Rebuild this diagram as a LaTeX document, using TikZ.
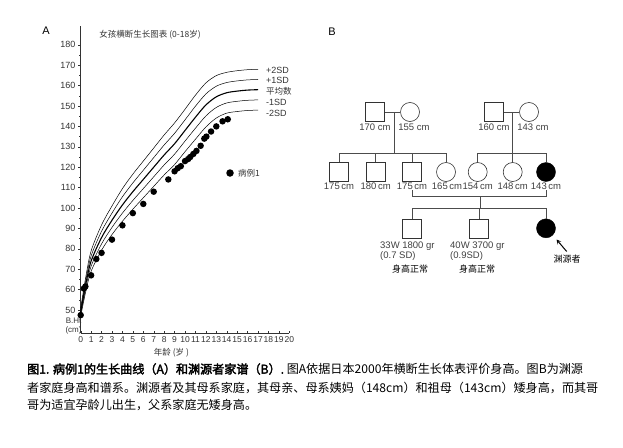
\documentclass[tikz,border=0pt]{standalone}
\usepackage{fontspec}
\setmainfont{Liberation Sans}
\newfontfamily\cjk{Noto Sans CJK SC}
\newfontfamily\cjkb[FakeBold=2.5]{Noto Sans CJK SC}
\begin{document}
\begin{tikzpicture}[x=1pt,y=-1pt,
  lab/.style={font=\fontsize{9}{10}\selectfont, text=black!80, inner sep=0pt},
  plab/.style={font=\fontsize{9.5}{10}\selectfont, text=black!75, inner sep=0pt},
  pdot/.style={circle, fill=black, inner sep=0pt, minimum size=6.5pt},
  male/.style={draw=black!80, minimum size=19pt, inner sep=0pt, line width=0.6pt},
  female/.style={circle, draw=black!80, minimum size=19pt, inner sep=0pt, line width=0.6pt},
  affected/.style={circle, draw=black, fill=black, minimum size=19pt, inner sep=0pt},
  pline/.style={draw=black!70, line width=0.5pt},
  captxt/.style={font=\cjk\fontsize{12.1}{13}\selectfont, anchor=west, inner sep=0pt}]
\useasboundingbox (0,0) rectangle (623,447);
% ---------- A ----------
\node[font=\fontsize{11}{12}\selectfont] (A) at (46,31) {A};
\node[lab, font=\cjk\fontsize{8.5}{9}\selectfont] (title) at (150,35) {女孩横断生长图表 (0-18岁)};
\begin{scope}[shift={(80.7,310)}, x={(10.43pt,0)}, y={(0,2.04pt)}]
  \coordinate (o) at (0,-11.5);
  \draw[black!80, line width=0.6pt] (0,-11.5) -- (0,139);
  \draw[black!80, line width=0.6pt] (0,-11.5) -- (20,-11.5);
  \foreach \h in {50,60,...,180} {
    \draw[black!80] (0,\h-50) -- ++(-3pt,0);
    \node[lab, anchor=east] at (-0.5,\h-50) {\h};
  }
  \foreach \h in {55,65,...,175} \draw[black!80] (0,\h-50) -- ++(-1.5pt,0);
  \foreach \a in {0,...,20} {
    \draw[black!80] (\a,-11.5) -- ++(0,2.5pt);
    \node[lab, anchor=north, font=\fontsize{8.5}{9}\selectfont] at (\a,-13) {\a};
  }
  \node[lab, align=center, anchor=east, font=\fontsize{8}{8.5}\selectfont] at (0.1,-8) {B.Ht\\(cm)};
  \node[lab, font=\cjk\fontsize{8.5}{9}\selectfont] at (8.7,-21) {年龄 (岁 )};
  \newcommand\gcurve[2]{\draw[black, line width=#2] plot[smooth] coordinates {
    (0,{49+#1*1.0-50}) (0.5,{63+#1*1.8-50}) (1,{74+#1*2.5-50}) (2,{85.5+#1*3.1-50})
    (3,{94+#1*3.5-50}) (4,{101.5+#1*4.0-50}) (5,{108+#1*4.3-50}) (6,{114+#1*4.5-50})
    (7,{120+#1*4.7-50}) (8,{126+#1*4.9-50}) (9,{131.5+#1*5.1-50}) (10,{138+#1*5.2-50})
    (11,{144.5+#1*5.4-50}) (12,{150.5+#1*5.4-50}) (13,{154.5+#1*5.2-50}) (14,{156.5+#1*5-50})
    (15,{157.3+#1*5-50}) (16,{157.8+#1*5-50}) (17,{158+#1*5-50})};}
  \gcurve{2}{0.5pt}
  \gcurve{1}{0.5pt}
  \gcurve{0}{1.1pt}
  \gcurve{-1}{0.5pt}
  \gcurve{-2}{0.5pt}
  \foreach \a/\h in {0/47.5,0.3/60.5,0.45/61.5,1/67,1.5/75,2/78,3/84.5,4/91.5,5/97.5,6/102,7/108,8.4/114,9/118,9.3/119.5,9.6/120.5,10/123,10.3/124,10.5/125,10.8/126.5,11.1/128,11.5/130.5,11.85/134,12.05/135,12.5/137.5,13/140,13.6/142.5,14.1/143.5}
    \node[pdot] at (\a,\h-50) {};
\end{scope}
\node[lab, anchor=west] (p2) at (266,70) {+2SD};
\node[lab, anchor=west] (p1) at (266,80.5) {+1SD};
\node[lab, anchor=west, font=\cjk\fontsize{8.5}{9}\selectfont] (mn) at (266,91) {平均数};
\node[lab, anchor=west] (m1) at (266,102) {-1SD};
\node[lab, anchor=west] (m2) at (266,113) {-2SD};
\node[pdot, minimum size=7.5pt] (leg) at (230,173) {};
\node[lab, anchor=west, font=\cjk\fontsize{8.5}{9}\selectfont] (legt) at (238,173) {病例1};
% ---------- B ----------
\node[font=\fontsize{11}{12}\selectfont] (B) at (332,32) {B};
\node[male] (g1a) at (375,112) {};
\node[female] (g1b) at (410,112) {};
\node[male] (g1c) at (494,112) {};
\node[female] (g1d) at (529,112) {};
\node[plab] at (375,127) {170 cm};
\node[plab] at (414,127) {155 cm};
\node[plab] at (494,127) {160 cm};
\node[plab] at (533,127) {143 cm};
\node[male] (c1) at (339,172) {};
\node[male] (c2) at (375.7,172) {};
\node[male] (c3) at (412,172) {};
\node[female] (c4) at (446,172) {};
\node[female] (c5) at (477.7,172) {};
\node[female] (c6) at (512.7,172) {};
\node[affected] (c7) at (546,172) {};
\foreach \n/\x/\t in {1/339/175,2/375.7/180,4/447/165,5/477.7/154,6/512.7/148}
  \node[plab, fill=white, inner sep=0.3pt] (l\n) at (\x,186) {\t\,cm};
\coordinate (m1c) at (394,112);
\coordinate (m2c) at (512.7,112);
\draw[pline] (g1a) -- (g1b);
\draw[pline] (g1c) -- (g1d);
\draw[pline] (m1c) -- (394,153);
\draw[pline] (339,153) -- (446,153);
\foreach \c in {c1,c2,c3,c4} \draw[pline] (\c.north) -- (\c.north |- 0,153);
\draw[pline] (m2c) -- (c6.north);
\draw[pline] (477.7,153) -- (546,153);
\foreach \c in {c5,c7} \draw[pline] (\c.north) -- (\c.north |- 0,153);
\draw[pline] (c3.south) -- (412,196.7) -- (546,196.7) -- (c7.south);
\node[plab, fill=white, inner sep=0.3pt] (l3) at (412,186) {175\,cm};
\node[plab, fill=white, inner sep=0.3pt] (l7) at (546,186) {143\,cm};
\node[male] (d1) at (412,228.3) {};
\node[male] (d2) at (479,228.3) {};
\node[affected] (d3) at (546,228.3) {};
\draw[pline] (480,196.7) -- (480,208.3);
\draw[pline] (412,208.3) -- (546,208.3);
\foreach \c in {d1,d2,d3} \draw[pline] (\c.north) -- (\c.north |- 0,208.3);
\node[plab, anchor=west, align=left] (d1t) at (380,251) {33W 1800 gr\\(0.7 SD)};
\node[plab, anchor=west, align=left] (d2t) at (450,251) {40W 3700 gr\\(0.9SD)};
\node[plab, font=\cjk\fontsize{9}{10}\selectfont, text=black] at (410,269) {身高正常};
\node[plab, font=\cjk\fontsize{9}{10}\selectfont, text=black] at (477,269) {身高正常};
\node[plab, font=\cjk\fontsize{9}{10}\selectfont, text=black] (prob) at (567,259) {渊源者};
\coordinate (arr) at (566.7,251.5);
\draw[-stealth, line width=1pt] (arr) -- (556.5,239.5);
% ---------- caption ----------
\node[captxt] at (27,369) {{\cjkb 图1. 病例1的生长曲线（A）和渊源者家谱（B）.} 图A依据日本2000年横断生长体表评价身高。图B为渊源};
\node[captxt] at (27,387.5) {者家庭身高和谱系。渊源者及其母系家庭，其母亲、母系姨妈（148cm）和祖母（143cm）矮身高，而其哥};
\node[captxt] at (27,405.5) {哥为适宜孕龄儿出生，父系家庭无矮身高。};
\end{tikzpicture}
\end{document}
